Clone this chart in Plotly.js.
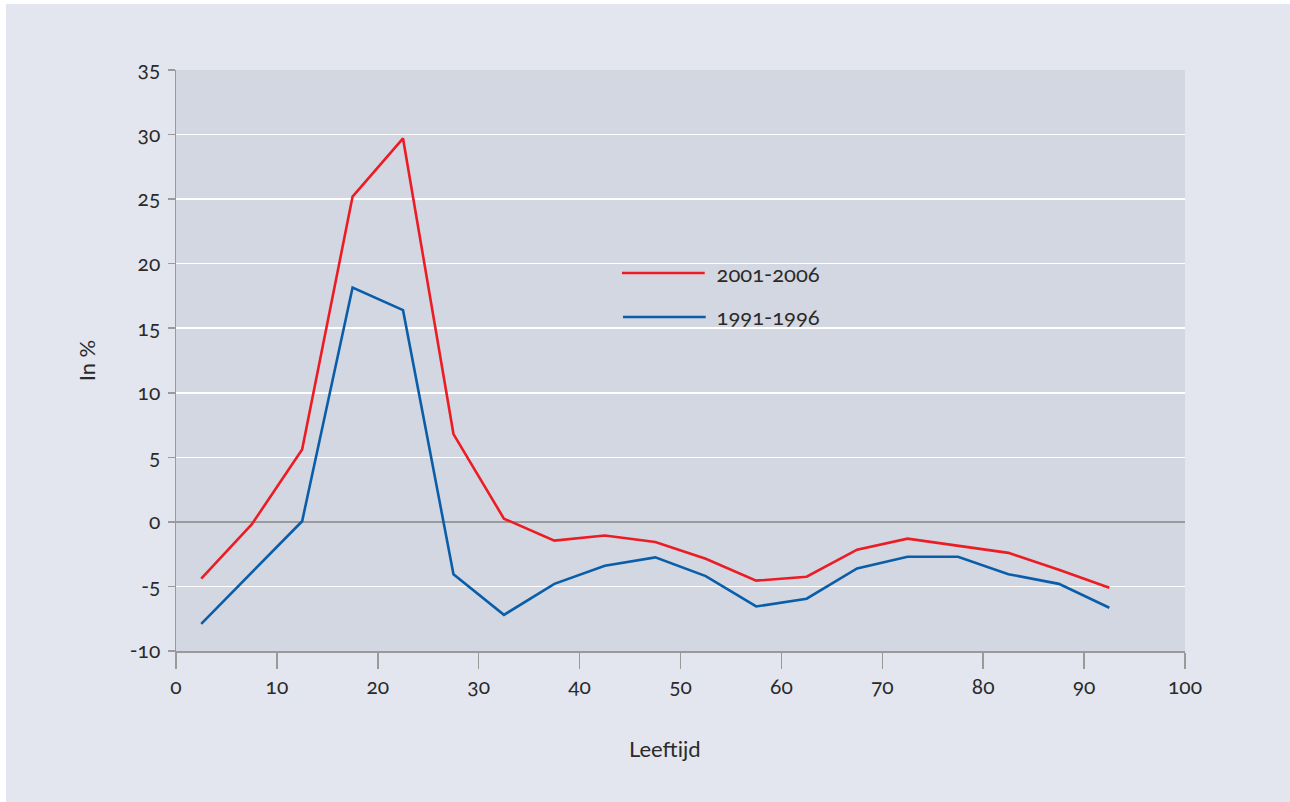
<!DOCTYPE html>
<html>
<head>
<meta charset="utf-8">
<script src="https://cdn.plot.ly/plotly-3.0.1.min.js"></script>
<style>
  html, body { margin: 0; padding: 0; background: #ffffff; }
  #chart { position: absolute; left: 6px; top: 4px; width: 1284px; height: 798px; }
  #chart text { font-variant-numeric: oldstyle-nums; font-feature-settings: "onum" 1; }
</style>
</head>
<body>
<div id="chart"></div>
<script>
// Age group midpoints (Leeftijd)
const ages = [2.5, 7.5, 12.5, 17.5, 22.5, 27.5, 32.5, 37.5, 42.5, 47.5, 52.5, 57.5, 62.5, 67.5, 72.5, 77.5, 82.5, 87.5, 92.5];
// Series values (in %)
const series2001Name = "2001-2006";
const series2001 = [-4.4, -0.2, 5.6, 25.2, 29.7, 6.8, 0.25, -1.45, -1.05, -1.55, -2.85, -4.55, -4.25, -2.15, -1.3, -1.85, -2.4, -3.7, -5.1];
const series1991Name = "1991-1996";
const series1991 = [-7.9, -3.9, 0.05, 18.15, 16.4, -4.05, -7.2, -4.8, -3.4, -2.75, -4.2, -6.55, -5.95, -3.6, -2.7, -2.7, -4.05, -4.8, -6.65];
const xTicks = [0, 10, 20, 30, 40, 50, 60, 70, 80, 90, 100];
const yTicks = [-10, -5, 0, 5, 10, 15, 20, 25, 30, 35];
const xTitle = "Leeftijd";
const yTitle = "In %";

const red = "#ec1c24";
const blue = "#0a5ea9";
const fontFam = "Lato, 'Open Sans', sans-serif";
const txt = "#2a2a2a";

const traces = [
  { x: ages, y: series2001, name: series2001Name, type: "scatter", mode: "lines",
    line: { color: red, width: 2.6 }, showlegend: false },
  { x: ages, y: series1991, name: series1991Name, type: "scatter", mode: "lines",
    line: { color: blue, width: 2.6 }, showlegend: false }
];

const layout = {
  width: 1284, height: 798,
  paper_bgcolor: "#e3e6ee",
  plot_bgcolor: "#d3d7e1",
  margin: { l: 170, r: 105, t: 66, b: 151 },
  font: { family: fontFam, size: 21, color: txt },
  xaxis: {
    range: [0, 100], tickvals: xTicks, ticktext: xTicks.map(String),
    showgrid: false, zeroline: false,
    showline: true, linecolor: "#9a9a9a", linewidth: 1.5,
    ticks: "outside", ticklen: 16, tickwidth: 1.5, tickcolor: "#9a9a9a",
    tickfont: { family: fontFam, size: 21, color: txt },
    fixedrange: true
  },
  yaxis: {
    range: [-10, 35], tickvals: yTicks, ticktext: yTicks.map(String),
    showgrid: true, gridcolor: "#ffffff", gridwidth: 1.5,
    zeroline: true, zerolinecolor: "#9a9a9a", zerolinewidth: 1.5,
    showline: true, linecolor: "#9a9a9a", linewidth: 1.5,
    ticks: "outside", ticklen: 7, tickwidth: 1.5, tickcolor: "#9a9a9a",
    ticklabelstandoff: 3,
    tickfont: { family: fontFam, size: 21, color: txt },
    title: { text: yTitle, font: { family: fontFam, size: 22, color: txt }, standoff: 26 },
    fixedrange: true
  },
  shapes: [
    { type: "line", xref: "paper", yref: "paper", x0: 0.442, x1: 0.524, y0: 0.6506, y1: 0.6506,
      line: { color: red, width: 2.6 } },
    { type: "line", xref: "paper", yref: "paper", x0: 0.443, x1: 0.525, y0: 0.5749, y1: 0.5749,
      line: { color: blue, width: 2.6 } }
  ],
  annotations: [
    { xref: "paper", yref: "paper", x: 0.530, y: 0.6506, xanchor: "left", yanchor: "middle",
      text: series2001Name, showarrow: false, font: { family: fontFam, size: 22, color: txt } },
    { xref: "paper", yref: "paper", x: 0.530, y: 0.5749, xanchor: "left", yanchor: "middle",
      text: series1991Name, showarrow: false, font: { family: fontFam, size: 22, color: txt } },
    { xref: "paper", yref: "paper", x: 0.485, y: -0.167, xanchor: "center", yanchor: "middle",
      text: xTitle, showarrow: false, font: { family: fontFam, size: 22, color: txt } }
  ]
};

Plotly.newPlot("chart", traces, layout, { displayModeBar: false, staticPlot: true });
</script>
</body>
</html>
